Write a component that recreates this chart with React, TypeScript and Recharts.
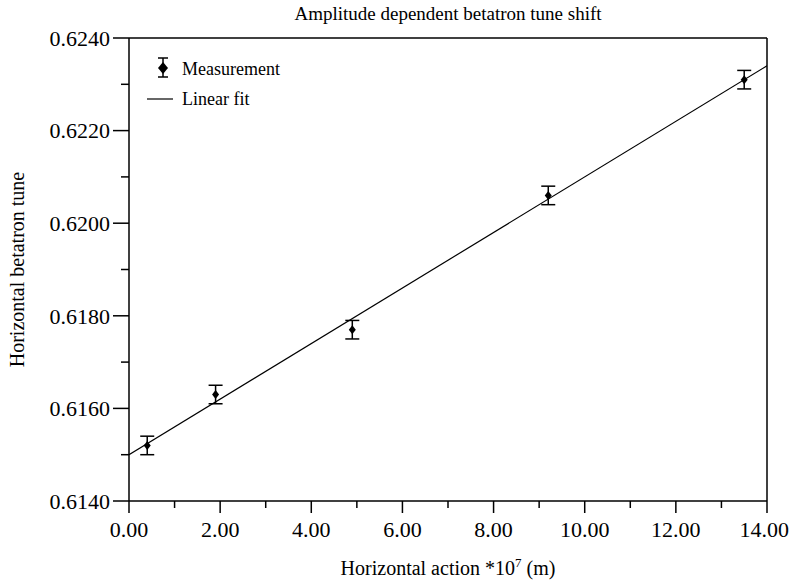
import React from 'react';
import { ComposedChart, Scatter, Line, XAxis, YAxis, ErrorBar, ReferenceLine, Label } from 'recharts';

// ---- data ----
const actionX = [0.4, 1.9, 4.9, 9.2, 13.5];
const tuneY = [0.6152, 0.6163, 0.6177, 0.6206, 0.6231];
const tuneErr = [0.0002, 0.0002, 0.0002, 0.0002, 0.0002];
const fitX = [0, 14];
const fitY = [0.615, 0.6234];
const xTicks = [0, 1, 2, 3, 4, 5, 6, 7, 8, 9, 10, 11, 12, 13, 14];
const yTicks = [0.614, 0.615, 0.616, 0.617, 0.618, 0.619, 0.62, 0.621, 0.622, 0.623, 0.624];
const chartTitle = 'Amplitude dependent betatron tune shift';
const xTitle = 'Horizontal action *10';
const xTitleExp = '7';
const xTitleUnit = ' (m)';
const yTitle = 'Horizontal betatron tune';
const legendLabels = ['Measurement', 'Linear fit'];

const measurements = actionX.map((x, i) => ({ x, y: tuneY[i], err: tuneErr[i] }));
const fitLine = fitX.map((x, i) => ({ x, y: fitY[i] }));

if (typeof document !== 'undefined') {
  document.body.style.margin = '0';
  document.documentElement.style.overflow = 'hidden';
  document.body.style.overflow = 'hidden';
}

const FONT = '"Liberation Serif", "Times New Roman", serif';

const XTick = (props: any) => {
  const { x, y, payload } = props;
  const v = payload.value as number;
  const major = Math.round(v) % 2 === 0;
  const last = v === xTicks[xTicks.length - 1];
  return (
    <g>
      <line x1={x} x2={x} y1={y} y2={y + (major ? 12 : 7)} stroke="#000" strokeWidth={1.5} />
      {major && (
        <text
          x={last ? 789 : x}
          y={y + 36}
          textAnchor={last ? 'end' : 'middle'}
          fontSize={22}
          fontFamily={FONT}
          fill="#000"
        >
          {v.toFixed(2)}
        </text>
      )}
    </g>
  );
};

const YTick = (props: any) => {
  const { x, y, payload } = props;
  const v = payload.value as number;
  const major = Math.round(v * 10000) % 20 === 0;
  return (
    <g>
      <line x1={x - (major ? 16 : 8)} x2={x} y1={y} y2={y} stroke="#000" strokeWidth={1.5} />
      {major && (
        <text x={x - 19} y={y} dy="0.35em" textAnchor="end" fontSize={22} fontFamily={FONT} fill="#000">
          {v.toFixed(4)}
        </text>
      )}
    </g>
  );
};

const Diamond = (props: any) => {
  const { cx, cy } = props;
  const hw = 3.5;
  const hh = 4.5;
  return <polygon points={`${cx},${cy - hh} ${cx + hw},${cy} ${cx},${cy + hh} ${cx - hw},${cy}`} fill="#000" />;
};

export default function App() {
  return (
    <div style={{ width: 790, height: 582, position: 'relative', background: '#fff', overflow: 'hidden' }}>
      <ComposedChart width={790} height={582} margin={{ top: 38, right: 23, bottom: 0, left: 0 }}>
        <XAxis
          dataKey="x"
          type="number"
          domain={[0, 14]}
          ticks={xTicks}
          interval={0}
          allowDataOverflow
          tickSize={0}
          tickMargin={0}
          tickLine={false}
          tick={XTick}
          height={81}
          axisLine={{ stroke: '#000', strokeWidth: 1.5 }}
        >
          <Label
            content={(p: any) => {
              const vb = p.viewBox;
              return (
                <text x={vb.x + vb.width / 2} y={575} textAnchor="middle" fontSize={20} fontFamily={FONT} fill="#000">
                  {xTitle}
                  <tspan dy={-8} fontSize={13}>{xTitleExp}</tspan>
                  <tspan dy={8}>{xTitleUnit}</tspan>
                </text>
              );
            }}
          />
        </XAxis>
        <YAxis
          dataKey="y"
          type="number"
          domain={[0.614, 0.624]}
          ticks={yTicks}
          interval={0}
          allowDataOverflow
          tickSize={0}
          tickMargin={0}
          tickLine={false}
          tick={YTick}
          width={129}
          axisLine={{ stroke: '#000', strokeWidth: 1.5 }}
        >
          <Label
            content={(p: any) => {
              const vb = p.viewBox;
              const cy = vb.y + vb.height / 2;
              return (
                <text
                  x={24}
                  y={cy}
                  transform={`rotate(-90 24 ${cy})`}
                  textAnchor="middle"
                  fontSize={20}
                  fontFamily={FONT}
                  fill="#000"
                >
                  {yTitle}
                </text>
              );
            }}
          />
        </YAxis>
        <ReferenceLine y={0.624} stroke="#000" strokeWidth={1.5} ifOverflow="extendDomain" />
        <ReferenceLine x={14} stroke="#000" strokeWidth={1.5} ifOverflow="extendDomain" />
        <Line
          data={fitLine}
          dataKey="y"
          type="linear"
          stroke="#000"
          strokeWidth={1.2}
          dot={false}
          activeDot={false}
          isAnimationActive={false}
        />
        <Scatter data={measurements} dataKey="y" shape={Diamond} isAnimationActive={false}>
          <ErrorBar dataKey="err" direction="y" width={7} stroke="#000" strokeWidth={1.5} />
        </Scatter>
      </ComposedChart>
      <svg
        width={790}
        height={582}
        style={{ position: 'absolute', left: 0, top: 0, pointerEvents: 'none' }}
      >
        <text x={448} y={20} textAnchor="middle" fontSize={19} fontFamily={FONT} fill="#000">
          {chartTitle}
        </text>
        <line x1={163} x2={163} y1={58} y2={77} stroke="#000" strokeWidth={1.5} />
        <line x1={158} x2={168} y1={58} y2={58} stroke="#000" strokeWidth={1.5} />
        <line x1={158} x2={168} y1={77} y2={77} stroke="#000" strokeWidth={1.5} />
        <polygon points="163,62 168,68 163,74 158,68" fill="#000" />
        <text x={182} y={75} fontSize={18} fontFamily={FONT} fill="#000">
          {legendLabels[0]}
        </text>
        <line x1={147} x2={173} y1={99} y2={99} stroke="#000" strokeWidth={1.2} />
        <text x={182} y={105} fontSize={18} fontFamily={FONT} fill="#000">
          {legendLabels[1]}
        </text>
      </svg>
    </div>
  );
}
